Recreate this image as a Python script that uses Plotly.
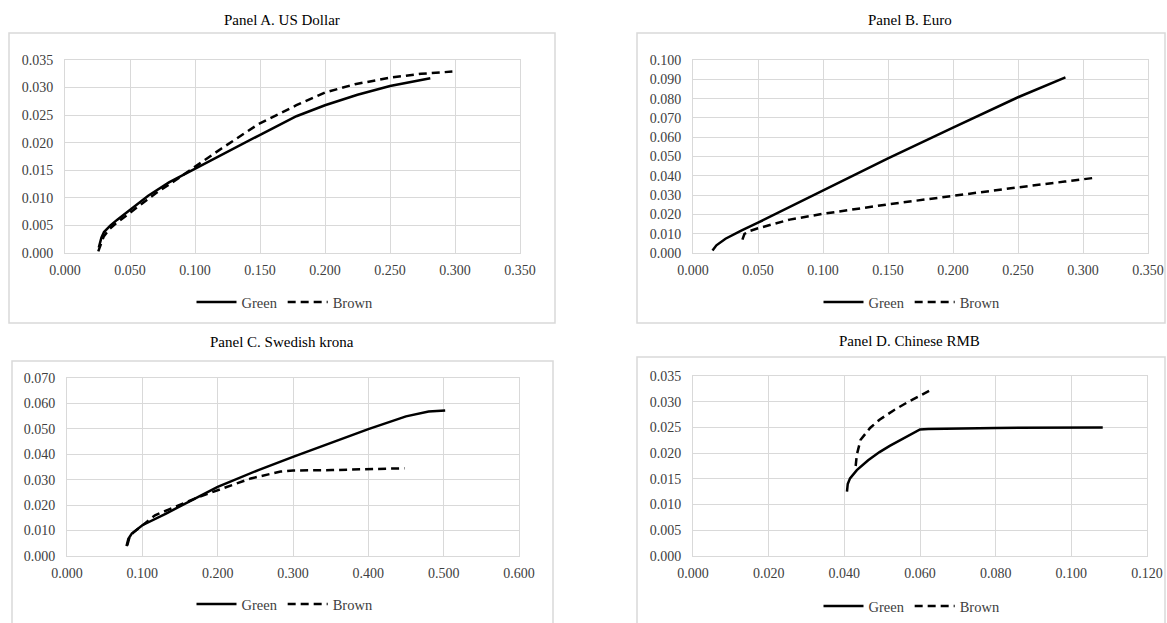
import plotly.graph_objects as go

W, H = 1167, 623

# ---------------- data ----------------
usd_green_x = [0.026, 0.028, 0.030, 0.035, 0.040, 0.050, 0.064, 0.080, 0.100, 0.125, 0.149, 0.178, 0.200, 0.225, 0.250, 0.281]
usd_green_y = [0.0010, 0.0028, 0.0038, 0.0050, 0.0060, 0.0078, 0.0104, 0.0128, 0.0153, 0.0184, 0.0213, 0.0248, 0.0268, 0.0287, 0.0303, 0.0317]
usd_brown_x = [0.0256, 0.0275, 0.0298, 0.0340, 0.0384, 0.0500, 0.0696, 0.0850, 0.1000, 0.1207, 0.1490, 0.1780, 0.2000, 0.2230, 0.2500, 0.2740, 0.2980]
usd_brown_y = [0.0003, 0.0015, 0.0030, 0.0043, 0.0052, 0.0073, 0.0108, 0.0132, 0.0157, 0.0190, 0.0234, 0.0268, 0.0291, 0.0306, 0.0318, 0.0325, 0.0329]

eur_green_x = [0.015, 0.018, 0.025, 0.0367, 0.050, 0.075, 0.100, 0.150, 0.200, 0.250, 0.2865]
eur_green_y = [0.0013, 0.0040, 0.0074, 0.0115, 0.0157, 0.0240, 0.0320, 0.0490, 0.0650, 0.0807, 0.0910]
eur_brown_x = [0.038, 0.0396, 0.044, 0.050, 0.0744, 0.100, 0.150, 0.200, 0.250, 0.286, 0.3094]
eur_brown_y = [0.0069, 0.0099, 0.0115, 0.0128, 0.0173, 0.0203, 0.0252, 0.0297, 0.0340, 0.0370, 0.0390]

sek_green_x = [0.079, 0.0815, 0.086, 0.100, 0.1315, 0.166, 0.200, 0.254, 0.300, 0.400, 0.450, 0.480, 0.502]
sek_green_y = [0.0039, 0.0068, 0.0088, 0.0121, 0.0167, 0.0220, 0.0272, 0.0338, 0.0390, 0.0499, 0.0549, 0.0568, 0.0572]
sek_brown_x = [0.080, 0.083, 0.088, 0.102, 0.1168, 0.1757, 0.200, 0.244, 0.2836, 0.300, 0.352, 0.400, 0.448]
sek_brown_y = [0.0042, 0.0075, 0.0092, 0.0125, 0.0160, 0.0233, 0.0259, 0.0305, 0.0332, 0.0336, 0.0338, 0.0341, 0.0345]

cny_green_x = [0.0407, 0.0409, 0.0415, 0.0433, 0.0463, 0.0493, 0.0520, 0.0542, 0.0572, 0.0600, 0.0622, 0.0800, 0.1083]
cny_green_y = [0.0125, 0.0140, 0.0151, 0.0167, 0.0186, 0.0202, 0.0214, 0.0223, 0.0236, 0.0246, 0.0247, 0.0249, 0.0250]
cny_brown_x = [0.0430, 0.0433, 0.0443, 0.0468, 0.0493, 0.0532, 0.0567, 0.0600, 0.0624]
cny_brown_y = [0.0175, 0.0197, 0.0226, 0.0249, 0.0265, 0.0284, 0.0299, 0.0312, 0.0321]

titles = ["Panel A. US Dollar", "Panel B. Euro", "Panel C. Swedish krona", "Panel D. Chinese RMB"]
series_names = ["Green", "Brown"]
x_ranges = [(0, 0.35, 0.05), (0, 0.35, 0.05), (0, 0.6, 0.1), (0, 0.12, 0.02)]
y_ranges = [(0, 0.035, 0.005), (0, 0.10, 0.01), (0, 0.07, 0.01), (0, 0.035, 0.005)]

panels = [
    (usd_green_x, usd_green_y, usd_brown_x, usd_brown_y),
    (eur_green_x, eur_green_y, eur_brown_x, eur_brown_y),
    (sek_green_x, sek_green_y, sek_brown_x, sek_brown_y),
    (cny_green_x, cny_green_y, cny_brown_x, cny_brown_y),
]

# ---------------- layout geometry (window pixels) ----------------
plot_px = [(65, 520, 60, 253), (693, 1148, 60, 253), (67, 519, 378, 556), (693, 1147, 376, 556)]
box_px = [(9, 555, 33, 323), (637, 1165, 33, 323), (12, 553, 361, 640), (637, 1165, 357, 640)]
title_px = [(282, 20), (910, 20), (282, 342), (909, 341)]
legend_px = [(285, 302), (912, 302), (285, 604), (912, 606)]


def px(x):
    return x / W


def py(y):
    return 1 - y / H


FONT = "Liberation Serif, Times New Roman, serif"
GRID = "#d9d9d9"
TXT = "#404040"

fig = go.Figure()
layout = dict(
    width=W, height=H,
    margin=dict(l=0, r=0, t=0, b=0, pad=0, autoexpand=False),
    paper_bgcolor="white", plot_bgcolor="white",
    font=dict(family=FONT, size=14, color=TXT),
    shapes=[], annotations=[],
)

for i, (gx, gy, bx, by) in enumerate(panels):
    n = i + 1
    xa = "x" if n == 1 else f"x{n}"
    ya = "y" if n == 1 else f"y{n}"
    lg = "legend" if n == 1 else f"legend{n}"
    fig.add_trace(go.Scatter(x=gx, y=gy, mode="lines", name=series_names[0],
                             line=dict(color="black", width=2.5),
                             xaxis=xa, yaxis=ya, legend=lg))
    fig.add_trace(go.Scatter(x=bx, y=by, mode="lines", name=series_names[1],
                             line=dict(color="black", width=2.5, dash="8px,5px"),
                             xaxis=xa, yaxis=ya, legend=lg))
    x0, x1, y0, y1 = plot_px[i]
    xr, yr = x_ranges[i], y_ranges[i]
    xkey = "xaxis" if n == 1 else f"xaxis{n}"
    ykey = "yaxis" if n == 1 else f"yaxis{n}"
    layout[xkey] = dict(domain=[px(x0), px(x1)], anchor=ya, range=[xr[0], xr[1]],
                        dtick=xr[2], tick0=0, tickformat=".3f", showgrid=True,
                        gridcolor=GRID, gridwidth=1, showline=True, linecolor=GRID,
                        linewidth=1, mirror=True, zeroline=False, ticks="",
                        automargin=False,
                        ticklabelstandoff=4, tickfont=dict(size=14, color=TXT))
    layout[ykey] = dict(domain=[py(y1), py(y0)], anchor=xa, range=[yr[0], yr[1]],
                        dtick=yr[2], tick0=0, tickformat=".3f", showgrid=True,
                        gridcolor=GRID, gridwidth=1, showline=True, linecolor=GRID,
                        linewidth=1, mirror=True, zeroline=False, ticks="",
                        automargin=False,
                        ticklabelstandoff=8, tickfont=dict(size=14, color=TXT))
    bx0, bx1, by0, by1 = box_px[i]
    layout["shapes"].append(dict(type="rect", xref="paper", yref="paper",
                                 x0=px(bx0), x1=px(bx1), y0=py(by1), y1=py(by0),
                                 line=dict(color=GRID, width=1.5), fillcolor="rgba(0,0,0,0)",
                                 layer="below"))
    tx, ty = title_px[i]
    layout["annotations"].append(dict(text=titles[i], xref="paper", yref="paper",
                                      x=px(tx), y=py(ty), xanchor="center", yanchor="middle",
                                      showarrow=False, font=dict(family=FONT, size=15, color="black")))
    lx, ly = legend_px[i]
    layout[lg] = dict(orientation="h", x=px(lx), y=py(ly), xanchor="center", yanchor="middle",
                      bgcolor="rgba(0,0,0,0)", font=dict(family=FONT, size=14.5, color=TXT),
                      itemwidth=40, tracegroupgap=0)

fig.update_layout(**layout)
fig.write_html(
    "out.html",
    config={"displayModeBar": False},
    post_script="document.body.style.margin='0';document.body.style.overflow='hidden';"
                "document.documentElement.style.overflow='hidden';",
)
